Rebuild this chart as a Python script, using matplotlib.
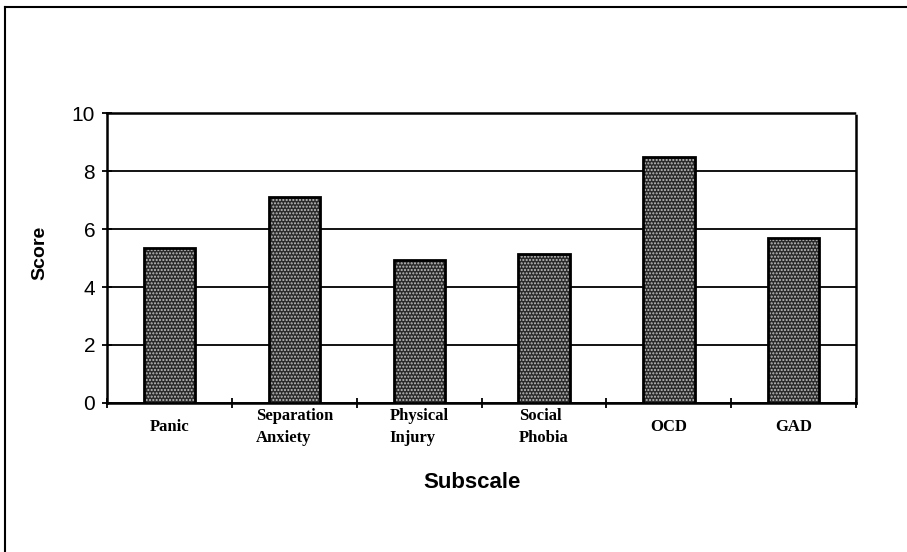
import numpy as np
import matplotlib
matplotlib.use("Agg")
import matplotlib.pyplot as plt
from matplotlib.lines import Line2D

subscales = ["Panic", "Separation\nAnxiety", "Physical\nInjury", "Social\nPhobia", "OCD", "GAD"]
scores = [5.35, 7.1, 4.95, 5.15, 8.5, 5.7]

plt.rcParams["hatch.linewidth"] = 1.0

fig = plt.figure(figsize=(9.07, 5.52), dpi=100)
ax = fig.add_axes([0.118, 0.270, 0.826, 0.525])

x = np.arange(len(subscales))
# dark bars with light dot pattern on top, then outline
ax.bar(x, scores, width=0.41, color="#2a2a2a", edgecolor="none", zorder=3)
ax.bar(x, scores, width=0.41, facecolor="none", edgecolor="#c0c0c0",
       hatch=".....", linewidth=0, zorder=4)
ax.bar(x, scores, width=0.41, facecolor="none", edgecolor="black",
       linewidth=2, zorder=5)

ax.set_xlim(-0.5, len(subscales) - 0.5)
ax.set_ylim(0, 10)
ax.set_yticks([0, 2, 4, 6, 8, 10])
ax.yaxis.grid(True, color="black", linewidth=1.3, zorder=1)
ax.set_axisbelow(True)

ax.set_xticks(x)
ax.set_xticklabels(subscales, fontfamily="Liberation Serif", fontweight="bold",
                   fontsize=12, linespacing=1.5, multialignment="left")
for lab in ax.get_xticklabels():
    lab.set_verticalalignment("center")
ax.tick_params(axis="x", which="major", length=0, pad=17)
ax.set_xticks(np.arange(-0.5, len(subscales)), minor=True)
ax.tick_params(axis="x", which="minor", direction="inout", length=7, width=1.3)
ax.tick_params(axis="y", direction="inout", length=7, width=1.3, pad=5)
for lab in ax.get_yticklabels():
    lab.set_fontfamily("Liberation Sans")
    lab.set_fontsize(15)

for side in ["left", "bottom"]:
    ax.spines[side].set_linewidth(1.8)
for side in ["top", "right"]:
    ax.spines[side].set_linewidth(1.8)
    ax.spines[side].set_linestyle((0, (1, 1)))

fig.text(472 / 907, 1 - 482 / 552, "Subscale", ha="center", va="center",
         fontfamily="Liberation Sans", fontweight="bold", fontsize=16)
fig.text(40 / 907, 1 - 253 / 552, "Score", ha="center", va="center", rotation=90,
         fontfamily="Liberation Sans", fontweight="bold", fontsize=14)

# page frame on the left and top
fig.add_artist(Line2D([5 / 907, 1.0], [1 - 7 / 552] * 2, color="black", linewidth=1.5))
fig.add_artist(Line2D([5 / 907] * 2, [0.0, 1 - 7 / 552], color="black", linewidth=1.5))

fig.savefig("out.png", dpi=100)
